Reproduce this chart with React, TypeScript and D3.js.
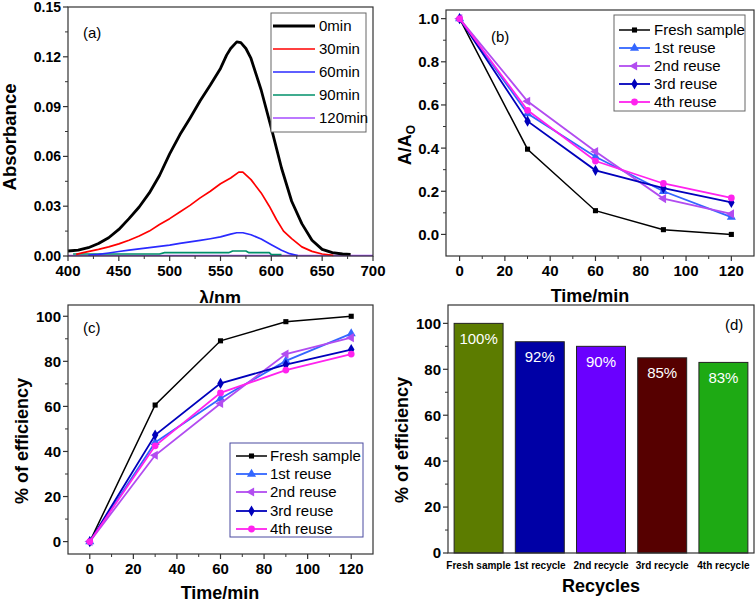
import React from 'react';
import * as d3 from 'd3';

const FONT = '"Liberation Sans", Arial, Helvetica, sans-serif';

// ---------- Panel (a): absorbance spectra ----------
const A_NAMES = ['0min', '30min', '60min', '90min', '120min'];
const A_COLORS = ['#000000', '#ff0000', '#2a2aff', '#00906a', '#a64dff'];
const WL_0 = [400, 410, 420, 430, 440, 450, 460, 470, 480, 490, 500, 510, 520, 530, 540, 550, 556, 560, 566, 570, 575, 580, 590, 600, 610, 620, 630, 640, 650, 660, 670, 678];
const ABS_0 = [0.003, 0.0035, 0.005, 0.0075, 0.011, 0.016, 0.0225, 0.0295, 0.038, 0.0485, 0.0615, 0.073, 0.083, 0.0935, 0.103, 0.113, 0.121, 0.125, 0.129, 0.1285, 0.125, 0.119, 0.1, 0.077, 0.053, 0.033, 0.0195, 0.0095, 0.004, 0.002, 0.0012, 0.001];
const WL_30 = [408, 415, 430, 440, 450, 460, 470, 480, 490, 500, 510, 520, 530, 540, 550, 560, 568, 572, 580, 590, 598, 605, 612, 620, 630, 640, 650, 661];
const ABS_30 = [0.001, 0.002, 0.004, 0.0055, 0.0073, 0.0095, 0.012, 0.015, 0.019, 0.0225, 0.0265, 0.0305, 0.035, 0.039, 0.0435, 0.047, 0.0505, 0.0505, 0.046, 0.038, 0.03, 0.022, 0.015, 0.0105, 0.0055, 0.0028, 0.0012, 0.0004];
const WL_60 = [420, 430, 440, 450, 460, 470, 480, 490, 500, 510, 520, 530, 540, 550, 560, 566, 572, 580, 590, 600, 610, 618, 626];
const ABS_60 = [0.0006, 0.001, 0.0018, 0.0027, 0.0035, 0.0043, 0.005, 0.0058, 0.0066, 0.0076, 0.0085, 0.0094, 0.0104, 0.0115, 0.0132, 0.014, 0.014, 0.0128, 0.0102, 0.0068, 0.0035, 0.0014, 0.0003];
const WL_90 = [405, 490, 495, 558, 562, 575, 578, 598, 600, 610];
const ABS_90 = [0.0012, 0.0012, 0.002, 0.002, 0.003, 0.003, 0.002, 0.002, 0.0008, 0.0008];
const WL_120 = [400, 450, 500, 550, 600, 650, 700];
const ABS_120 = [0.0003, 0.0003, 0.0003, 0.0003, 0.0003, 0.0003, 0.0003];
const A_XTICKS = [400, 450, 500, 550, 600, 650, 700];
const A_XMINOR = [425, 475, 525, 575, 625, 675];
const A_YTICKS = [0, 0.03, 0.06, 0.09, 0.12, 0.15];
const A_YMINOR = [0.015, 0.045, 0.075, 0.105, 0.135];

// ---------- Panels (b), (c): reuse series ----------
const TIME = [0, 30, 60, 90, 120];
const REUSE_NAMES = ['Fresh sample', '1st reuse', '2nd reuse', '3rd reuse', '4th reuse'];
const REUSE_COLORS = ['#000000', '#3366ff', '#b24cf0', '#0000bb', '#ff22ee'];
const B_FRESH = [1.0, 0.395, 0.11, 0.022, 0.0];
const B_REUSE1 = [1.0, 0.56, 0.36, 0.2, 0.08];
const B_REUSE2 = [1.0, 0.617, 0.384, 0.166, 0.095];
const B_REUSE3 = [1.0, 0.525, 0.297, 0.215, 0.148];
const B_REUSE4 = [1.0, 0.575, 0.34, 0.236, 0.169];
const C_FRESH = [0, 60.6, 89.1, 97.6, 100];
const C_REUSE1 = [0, 44, 63.5, 80.2, 92.3];
const C_REUSE2 = [0, 38.3, 61.3, 83.2, 90.5];
const C_REUSE3 = [0, 47.3, 70.2, 78.5, 85.2];
const C_REUSE4 = [0, 42.5, 66, 76.1, 83.2];
const TIME_TICKS = [0, 20, 40, 60, 80, 100, 120];
const TIME_MINOR = [10, 30, 50, 70, 90, 110];
const B_YTICKS = [0, 0.2, 0.4, 0.6, 0.8, 1.0];
const B_YMINOR = [0.1, 0.3, 0.5, 0.7, 0.9];
const C_YTICKS = [0, 20, 40, 60, 80, 100];
const C_YMINOR = [10, 30, 50, 70, 90];

// ---------- Panel (d): bars ----------
const D_CATS = ['Fresh sample', '1st recycle', '2nd recycle', '3rd recycle', '4th recycle'];
const D_VALUES = [100, 92, 90, 85, 83];
const D_LABELS = ['100%', '92%', '90%', '85%', '83%'];
const D_COLORS = ['#5c7c00', '#0000a6', '#6a00ff', '#560000', '#1eaa14'];
const D_YTICKS = [0, 20, 40, 60, 80, 100];
const D_YMINOR = [10, 30, 50, 70, 90];

const AXIS = '#333';

function Axes({ xs, ys, xTicks, xMinor, yTicks, yMinor, xFmt, yFmt, yFont = 15 }: any) {
  const [x0, x1] = xs.range();
  const [y0, y1] = ys.range();
  return (
    <g>
      <rect x={x0} y={y1} width={x1 - x0} height={y0 - y1} fill="none" stroke={AXIS} strokeWidth={1.2} />
      {yTicks.map((t: number) => (
        <line key={'yt' + t} x1={x0 - 5} x2={x0} y1={ys(t)} y2={ys(t)} stroke={AXIS} strokeWidth={1.2} />
      ))}
      {yMinor.map((t: number) => (
        <line key={'ym' + t} x1={x0 - 3} x2={x0} y1={ys(t)} y2={ys(t)} stroke={AXIS} strokeWidth={1} />
      ))}
      {yTicks.map((t: number) => (
        <text key={'yl' + t} x={x0 - 7} y={ys(t)} dy="0.36em" textAnchor="end" fontWeight="bold" fontSize={yFont} fontFamily={FONT}>
          {yFmt(t)}
        </text>
      ))}
      {xTicks.map((t: number) => (
        <line key={'xt' + t} x1={xs(t)} x2={xs(t)} y1={y0} y2={y0 + 5} stroke={AXIS} strokeWidth={1.2} />
      ))}
      {xMinor.map((t: number) => (
        <line key={'xm' + t} x1={xs(t)} x2={xs(t)} y1={y0} y2={y0 + 3} stroke={AXIS} strokeWidth={1} />
      ))}
      {xTicks.map((t: number) => (
        <text key={'xl' + t} x={xs(t)} y={y0 + 20} textAnchor="middle" fontWeight="bold" fontSize={15} fontFamily={FONT}>
          {xFmt(t)}
        </text>
      ))}
    </g>
  );
}

const symbolFor = (i: number) => {
  const types = [d3.symbolSquare, d3.symbolTriangle, d3.symbolTriangle, d3.symbolDiamond, d3.symbolCircle];
  const sizes = [26, 36, 36, 36, 36];
  return d3.symbol().type(types[i]).size(sizes[i])() as string;
};
const symbolRot = (i: number) => (i === 2 ? -90 : 0);

function ReusePanel({ xs, ys, data, yTicks, yMinor, yFmt, legend }: any) {
  const line = d3
    .line<[number, number]>()
    .x((d) => xs(d[0]))
    .y((d) => ys(d[1]));
  return (
    <g>
      {data.map((vals: number[], i: number) => {
        const pts = TIME.map((t, k) => [t, vals[k]] as [number, number]);
        return (
          <g key={i}>
            <path d={line(pts) as string} fill="none" stroke={REUSE_COLORS[i]} strokeWidth={i === 0 ? 1.5 : 1.8} />
            {pts.map((p, k) => (
              <path
                key={k}
                d={symbolFor(i)}
                transform={`translate(${xs(p[0])},${ys(p[1])}) rotate(${symbolRot(i)})`}
                fill={REUSE_COLORS[i]}
              />
            ))}
          </g>
        );
      })}
      <Axes xs={xs} ys={ys} xTicks={TIME_TICKS} xMinor={TIME_MINOR} yTicks={yTicks} yMinor={yMinor} xFmt={(t: number) => String(t)} yFmt={yFmt} />
      <g>
        <rect x={legend.x0} y={legend.y0} width={legend.x1 - legend.x0} height={legend.y1 - legend.y0} fill="white" stroke={legend.stroke} strokeWidth={1} />
        {REUSE_NAMES.map((n, i) => {
          const y = legend.rows[i];
          return (
            <g key={n}>
              <line x1={legend.lx0} x2={legend.lx1} y1={y} y2={y} stroke={REUSE_COLORS[i]} strokeWidth={i === 0 ? 1.5 : 1.8} />
              <path d={symbolFor(i)} transform={`translate(${(legend.lx0 + legend.lx1) / 2},${y}) rotate(${symbolRot(i)})`} fill={REUSE_COLORS[i]} />
              <text x={legend.tx} y={y} dy="0.36em" fontSize={15} fontFamily={FONT}>
                {n}
              </text>
            </g>
          );
        })}
      </g>
    </g>
  );
}

export default function App() {
  // Panel (a)
  const xa = d3.scaleLinear().domain([400, 700]).range([68, 373]);
  const ya = d3.scaleLinear().domain([0, 0.15]).range([256, 7]);
  const aWl = [WL_0, WL_30, WL_60, WL_90, WL_120];
  const aAbs = [ABS_0, ABS_30, ABS_60, ABS_90, ABS_120];
  const lineA = d3
    .line<[number, number]>()
    .x((d) => xa(d[0]))
    .y((d) => ya(d[1]));
  const aLegendRows = [26, 49, 72, 95, 118];

  // Panel (b)
  const xb = d3.scaleLinear().domain([-6, 130]).range([446, 754]);
  const yb = d3.scaleLinear().domain([-0.1, 1.04]).range([256, 10]);

  // Panel (c)
  const xc = d3.scaleLinear().domain([-10, 130]).range([68, 373]);
  const yc = d3.scaleLinear().domain([-5.5, 105]).range([554, 305]);

  // Panel (d)
  const xd = d3.scaleBand<string>().domain(D_CATS).range([448, 754]).paddingInner(0.2).paddingOuter(0.1);
  const yd = d3.scaleLinear().domain([0, 108]).range([553, 305]);

  return (
    <svg width={756} height={602} style={{ position: 'absolute', left: 0, top: 0, background: 'white' }} fontFamily={FONT}>
      <rect x={0} y={0} width={756} height={602} fill="white" />

      {/* ---------- (a) ---------- */}
      <g>
        {aWl.map((wl, i) => {
          const pts = wl.map((w, k) => [w, aAbs[i][k]] as [number, number]);
          return <path key={i} d={lineA(pts) as string} fill="none" stroke={A_COLORS[i]} strokeWidth={i === 0 ? 2.8 : 1.7} strokeLinejoin="round" />;
        }).reverse()}
        <Axes xs={xa} ys={ya} xTicks={A_XTICKS} xMinor={A_XMINOR} yTicks={A_YTICKS} yMinor={A_YMINOR} xFmt={(t: number) => String(t)} yFmt={(t: number) => t.toFixed(2)} yFont={14} />
        <rect x={271} y={13} width={95} height={119} fill="white" stroke="#666" strokeWidth={1} />
        {A_NAMES.map((n, i) => (
          <g key={n}>
            <line x1={273} x2={315} y1={aLegendRows[i]} y2={aLegendRows[i]} stroke={A_COLORS[i]} strokeWidth={i === 0 ? 2.8 : 1.7} />
            <text x={319} y={aLegendRows[i]} dy="0.36em" fontSize={15} fontFamily={FONT}>
              {n}
            </text>
          </g>
        ))}
        <text x={83} y={33} dy="0.36em" fontSize={15} fontFamily={FONT}>(a)</text>
        <text transform="translate(16,137) rotate(-90)" textAnchor="middle" fontWeight="bold" fontSize={18.5} fontFamily={FONT}>
          Absorbance
        </text>
        <text x={220} y={304} textAnchor="middle" fontWeight="bold" fontSize={18} fontFamily={FONT}>
          λ/nm
        </text>
      </g>

      {/* ---------- (b) ---------- */}
      <ReusePanel
        xs={xb}
        ys={yb}
        data={[B_FRESH, B_REUSE1, B_REUSE2, B_REUSE3, B_REUSE4]}
        yTicks={B_YTICKS}
        yMinor={B_YMINOR}
        yFmt={(t: number) => t.toFixed(1)}
        legend={{ x0: 614, x1: 745, y0: 15, y1: 111, rows: [30, 48, 66, 84, 102], lx0: 619, lx1: 650, tx: 654, stroke: '#666' }}
      />
      <text x={491} y={37} dy="0.36em" fontSize={15} fontFamily={FONT}>(b)</text>
      <text transform="translate(411,145) rotate(-90)" textAnchor="middle" fontWeight="bold" fontSize={18} fontFamily={FONT}>
        <tspan>A/A</tspan>
        <tspan fontSize={12} dy={4}>O</tspan>
      </text>
      <text x={590} y={302} textAnchor="middle" fontWeight="bold" fontSize={18} fontFamily={FONT}>
        Time/min
      </text>

      {/* cover for the lower row */}
      <rect x={0} y={303} width={756} height={299} fill="white" />

      {/* ---------- (c) ---------- */}
      <ReusePanel
        xs={xc}
        ys={yc}
        data={[C_FRESH, C_REUSE1, C_REUSE2, C_REUSE3, C_REUSE4]}
        yTicks={C_YTICKS}
        yMinor={C_YMINOR}
        yFmt={(t: number) => String(t)}
        legend={{ x0: 230, x1: 363, y0: 443, y1: 537, rows: [456, 474, 492, 511, 529], lx0: 236, lx1: 267, tx: 270, stroke: '#4a4aa0' }}
      />
      <text x={83} y={328} dy="0.36em" fontSize={15} fontFamily={FONT}>(c)</text>
      <text transform="translate(28,441) rotate(-90)" textAnchor="middle" fontWeight="bold" fontSize={18} fontFamily={FONT}>
        % of efficiency
      </text>
      <text x={220} y={599} textAnchor="middle" fontWeight="bold" fontSize={18} fontFamily={FONT}>
        Time/min
      </text>

      {/* ---------- (d) ---------- */}
      <g>
        {D_CATS.map((c, i) => (
          <g key={c}>
            <rect x={xd(c)} y={yd(D_VALUES[i])} width={xd.bandwidth()} height={yd(0) - yd(D_VALUES[i])} fill={D_COLORS[i]} stroke="#222" strokeWidth={1} />
            <text x={(xd(c) as number) + xd.bandwidth() / 2} y={yd(D_VALUES[i]) + 15} dy="0.36em" textAnchor="middle" fill="white" fontSize={15} fontFamily={FONT}>
              {D_LABELS[i]}
            </text>
            <text x={(xd(c) as number) + xd.bandwidth() / 2} y={yd(0) + 16} textAnchor="middle" fontWeight="bold" fontSize={10} fontFamily={FONT}>
              {c}
            </text>
          </g>
        ))}
        <rect x={448} y={305} width={306} height={248} fill="none" stroke={AXIS} strokeWidth={1.2} />
        {D_YTICKS.map((t) => (
          <g key={'dy' + t}>
            <line x1={443} x2={448} y1={yd(t)} y2={yd(t)} stroke={AXIS} strokeWidth={1.2} />
            <text x={441} y={yd(t)} dy="0.36em" textAnchor="end" fontWeight="bold" fontSize={15} fontFamily={FONT}>
              {t}
            </text>
          </g>
        ))}
        {D_YMINOR.map((t) => (
          <line key={'dm' + t} x1={445} x2={448} y1={yd(t)} y2={yd(t)} stroke={AXIS} strokeWidth={1} />
        ))}
        <text x={725} y={325} dy="0.36em" fontSize={15} fontFamily={FONT}>(d)</text>
        <text transform="translate(408,440) rotate(-90)" textAnchor="middle" fontWeight="bold" fontSize={18} fontFamily={FONT}>
          % of efficiency
        </text>
        <text x={601} y={592} textAnchor="middle" fontWeight="bold" fontSize={18} fontFamily={FONT}>
          Recycles
        </text>
      </g>
    </svg>
  );
}
